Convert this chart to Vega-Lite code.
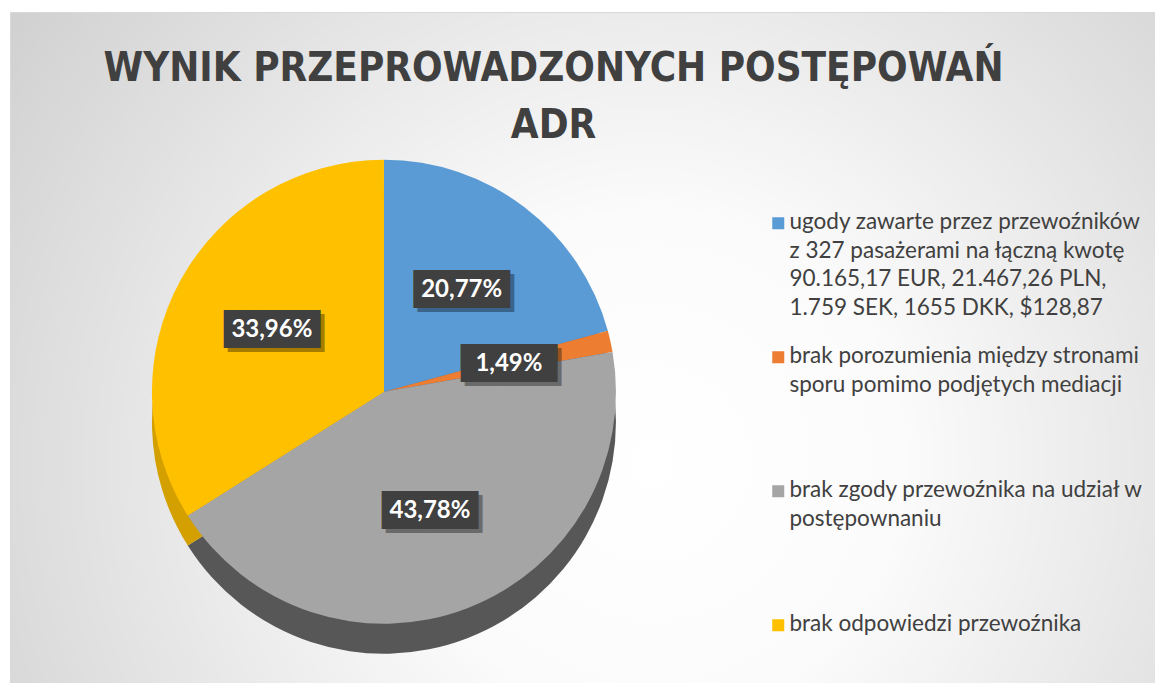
{
  "$schema": "https://vega.github.io/schema/vega-lite/v6.json",
  "width": 1155,
  "height": 683,
  "autosize": {"type": "fit", "contains": "padding"},
  "padding": {"left": 10, "top": 12, "right": 0, "bottom": 0},
  "background": "white",
  "view": {
    "stroke": "#d9d9d9",
    "fill": {
      "gradient": "radial",
      "x1": 0.56, "y1": 0.6, "r1": 0,
      "x2": 0.56, "y2": 0.6, "r2": 0.72,
      "stops": [
        {"offset": 0, "color": "#ffffff"},
        {"offset": 0.3, "color": "#fbfbfb"},
        {"offset": 1, "color": "#cdcdcd"}
      ]
    }
  },
  "config": {
    "locale": {"number": {"decimal": ",", "thousands": " ", "grouping": [3], "currency": ["", " zł"], "percent": "%"}},
    "style": {"guide-label": {"lineHeight": 28.5, "dy": -12}}
  },
  "title": {
    "text": ["WYNIK PRZEPROWADZONYCH POSTĘPOWAŃ", "ADR"],
    "font": "DejaVu Sans Condensed",
    "fontSize": 40,
    "fontWeight": "bold",
    "color": "#404040",
    "lineHeight": 57,
    "anchor": "middle",
    "dx": -29,
    "offset": -134
  },
  "data": {
    "values": [
      {"kategoria": "ugody zawarte przez przewoźników z 327 pasażerami na łączną kwotę 90.165,17 EUR, 21.467,26 PLN, 1.759 SEK, 1655 DKK, $128,87", "udzial": 0.2077, "nr": 1},
      {"kategoria": "brak porozumienia między stronami sporu pomimo podjętych mediacji", "udzial": 0.0149, "nr": 2},
      {"kategoria": "brak zgody przewoźnika na udział w postępownaniu", "udzial": 0.4378, "nr": 3},
      {"kategoria": "brak odpowiedzi przewoźnika", "udzial": 0.3396, "nr": 4}
    ]
  },
  "encoding": {
    "theta": {"field": "udzial", "type": "quantitative", "stack": true},
    "order": {"field": "nr", "type": "quantitative"}
  },
  "layer": [
    {
      "mark": {"type": "arc", "outerRadius": 232, "x": {"expr": "width*0.3266"}, "y": {"expr": "height*0.566"}, "yOffset": 30},
      "encoding": {
        "color": {
          "field": "kategoria", "type": "nominal", "sort": null, "legend": null,
          "scale": {"range": ["#41719c", "#ae5a21", "#575757", "#d4a000"]}
        }
      }
    },
    {
      "mark": {"type": "arc", "outerRadius": 232, "x": {"expr": "width*0.3266"}, "y": {"expr": "height*0.566"}},
      "encoding": {
        "color": {
          "field": "kategoria", "type": "nominal", "sort": null,
          "scale": {"range": ["#5b9bd5", "#ed7d31", "#a5a5a5", "#ffc000"]},
          "legend": {
            "orient": "none",
            "legendX": 757,
            "legendY": 200,
            "title": null,
            "padding": 0,
            "symbolType": "square",
            "symbolSize": 144,
            "symbolStrokeWidth": 0,
            "labelFont": "Lato",
            "labelFontSize": 22.5,
            "labelColor": "#404040",
            "labelLimit": 0,
            "labelOffset": 0,
            "labelBaseline": "top",
            "gridAlign": "all",
            "rowPadding": 25,
            "labelExpr": "split(replace(replace(replace(replace(replace(datum.label,' z 327 ','|z 327 '),' 90.165','|90.165'),' 1.759','|1.759'),' sporu','|sporu'),' postęp','|postęp'),'|')"
          }
        }
      }
    },
    {
      "mark": {"type": "text", "radius": 128, "x": {"expr": "width*0.3266"}, "y": {"expr": "height*0.566"}, "font": "DejaVu Sans Mono", "fontSize": 32, "color": "#000000", "opacity": 0.35, "dx": 4, "dy": 4, "text": "█████"}
    },
    {
      "mark": {"type": "text", "radius": 128, "x": {"expr": "width*0.3266"}, "y": {"expr": "height*0.566"}, "font": "DejaVu Sans Mono", "fontSize": 32, "color": "#404040", "text": "█████"}
    },
    {
      "mark": {"type": "text", "radius": 128, "x": {"expr": "width*0.3266"}, "y": {"expr": "height*0.566"}, "font": "Lato", "fontSize": 24, "fontWeight": "bold", "color": "#ffffff"},
      "encoding": {
        "text": {"field": "udzial", "type": "quantitative", "format": ".2%"}
      }
    }
  ],
  "resolve": {"scale": {"color": "independent"}, "legend": {"color": "independent"}}
}
